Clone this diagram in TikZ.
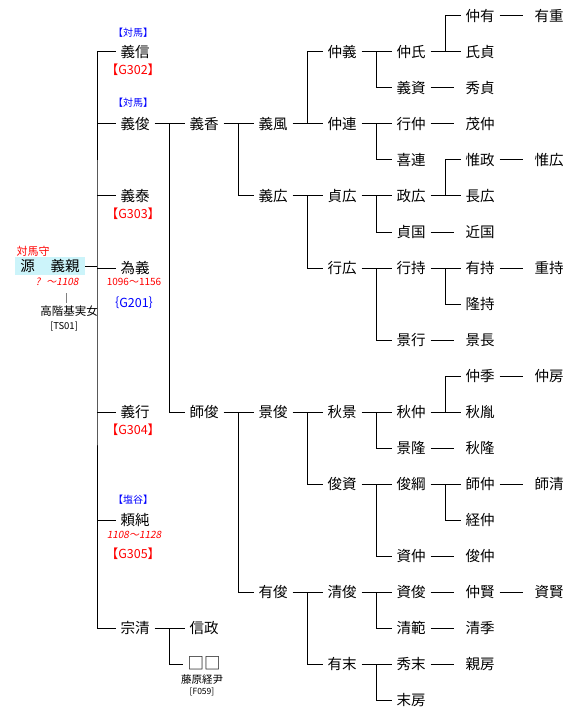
\documentclass[tikz,border=0pt]{standalone}
\usepackage{fontspec}
\setmainfont{Noto Sans CJK JP}
\newfontfamily\jpslant[FakeSlant=0.2]{Noto Sans CJK JP}
\usetikzlibrary{calc}
\definecolor{kinred}{RGB}{255,0,0}
\definecolor{kinblue}{RGB}{0,0,255}
\definecolor{rootcyan}{RGB}{204,244,250}
\definecolor{wifegray}{RGB}{128,128,128}
\tikzset{
  person/.style={font=\fontsize{14.5}{16}\selectfont,inner sep=0pt,outer xsep=5pt,
    text height=12pt,text depth=1.5pt},
  clan/.style={font=\fontsize{10}{11}\selectfont,text=kinblue,inner sep=0pt},
  gcode/.style={font=\fontsize{12.5}{14}\selectfont,text=kinred,inner sep=0pt},
  years/.style={font=\jpslant\fontsize{10}{11}\selectfont,text=kinred,inner sep=0pt},
  note/.style={font=\fontsize{#1}{12}\selectfont,inner sep=0pt},
  link/.style={shorten >=7pt},
}
% parent, top child, bottom child
\newcommand{\fork}[3]{%
  \draw (#1.east) -- (#1.east -| #2.west);
  \draw (#2.west) -| ($(#1.east)!.5!(#1.east -| #2.west)$) |- (#3.west);
}

\begin{document}
\begin{tikzpicture}[x=1pt,y=-1pt,line width=1pt]
  \useasboundingbox (0,0) rectangle (577,711);
  % root
  \node[note=11,text=kinred] (kami) at (33,251) {対馬守};
  \node[person,fill=rootcyan,minimum width=70pt,minimum height=18pt,outer xsep=0pt]
    (root) at (50,266) {源\hspace{16pt}義親};
  \node[years] (rootyears) at (57,282) {?\hspace{6pt}〜1108};
  \node[note=11.5] (wife) at (69,311) {高階基実女};
  \node[note=9.5] (wifecode) at (64,327) {[TS01]};
  \draw[wifegray] ($(wife.north)+(-3,-2)$) -- ++(0,-10);

  % generations, column by column
  \foreach \g/\r/\who in {
      1/1/義信, 1/3/義俊, 1/5/義泰, 1/7/為義, 1/11/義行, 1/14/頼純, 1/17/宗清,
      2/3/義香, 2/11/師俊, 2/17/信政,
      3/3/義風, 3/5/義広, 3/11/景俊, 3/16/有俊,
      4/1/仲義, 4/3/仲連, 4/5/貞広, 4/7/行広, 4/11/秋景, 4/13/俊資, 4/16/清俊, 4/18/有末,
      5/1/仲氏, 5/2/義資, 5/3/行仲, 5/4/喜連, 5/5/政広, 5/6/貞国, 5/7/行持, 5/9/景行,
      5/11/秋仲, 5/12/景隆, 5/13/俊綱, 5/15/資仲, 5/16/資俊, 5/17/清範, 5/18/秀末, 5/19/末房,
      6/0/仲有, 6/1/氏貞, 6/2/秀貞, 6/3/茂仲, 6/4/惟政, 6/5/長広, 6/6/近国, 6/7/有持,
      6/8/隆持, 6/9/景長, 6/10/仲季, 6/11/秋胤, 6/12/秋隆, 6/13/師仲, 6/14/経仲,
      6/15/俊仲, 6/16/仲賢, 6/17/清季, 6/18/親房,
      7/0/有重, 7/4/惟広, 7/7/重持, 7/10/仲房, 7/13/師清, 7/16/資賢}
    \node[person] (g\g r\r) at ({66+69*\g},{16+36*\r}) {\who};
  \node[person,font=\fontsize{16.5}{18}\selectfont] (g2r18) at (204,664) {□□};

  % notes on the sons
  \node[clan] (clan1) at (133,33) {【対馬】};
  \node[gcode] (code1) at (133,70) {【G302】};
  \node[clan] (clan3) at (133,103) {【対馬】};
  \node[gcode] (code5) at (133,214) {【G303】};
  \node[years,font=\fontsize{10}{11}\selectfont] (years7) at (134,282) {1096〜1156};
  \node[gcode,text=kinblue] (code7) at (134,303) {｛G201｝};
  \node[gcode] (code11) at (133,430) {【G304】};
  \node[clan] (clan14) at (133,500) {【塩谷】};
  \node[years] (years14) at (134,535) {1108〜1128};
  \node[gcode] (code14) at (133,554) {【G305】};
  \node[note=10.5] (wife18) at (202,680) {藤原経尹};
  \node[note=8.5] (code18) at (202,692) {[F059]};

  % root to sons
  \coordinate (trunk) at ($(root.east)+(12,0)$);
  \draw (g1r1.west) -| (trunk) |- (g1r17.west);
  \draw (root.east) -- (trunk);
  \foreach \r in {3,5,7,11,14}
    \draw (g1r\r.west) -- (g1r\r.west -| trunk);

  % forks
  \fork{g1r3}{g2r3}{g2r11}
  \fork{g1r17}{g2r17}{g2r18}
  \fork{g2r3}{g3r3}{g3r5}
  \fork{g2r11}{g3r11}{g3r16}
  \fork{g3r3}{g4r1}{g4r3}
  \fork{g3r5}{g4r5}{g4r7}
  \fork{g3r11}{g4r11}{g4r13}
  \fork{g3r16}{g4r16}{g4r18}
  \fork{g4r1}{g5r1}{g5r2}
  \fork{g4r3}{g5r3}{g5r4}
  \fork{g4r5}{g5r5}{g5r6}
  \fork{g4r7}{g5r7}{g5r9}
  \fork{g4r11}{g5r11}{g5r12}
  \fork{g4r13}{g5r13}{g5r15}
  \fork{g4r16}{g5r16}{g5r17}
  \fork{g4r18}{g5r18}{g5r19}
  \fork{g5r1}{g6r0}{g6r1}
  \fork{g5r5}{g6r4}{g6r5}
  \fork{g5r7}{g6r7}{g6r8}
  \fork{g5r11}{g6r10}{g6r11}
  \fork{g5r13}{g6r13}{g6r14}

  % only sons
  \foreach \r in {2,3,6,9,12,15,16,17,18}
    \draw[link] (g5r\r) -- (g6r\r);
  \foreach \r in {0,4,7,10,13,16}
    \draw[link] (g6r\r) -- (g7r\r);
\end{tikzpicture}
\end{document}
